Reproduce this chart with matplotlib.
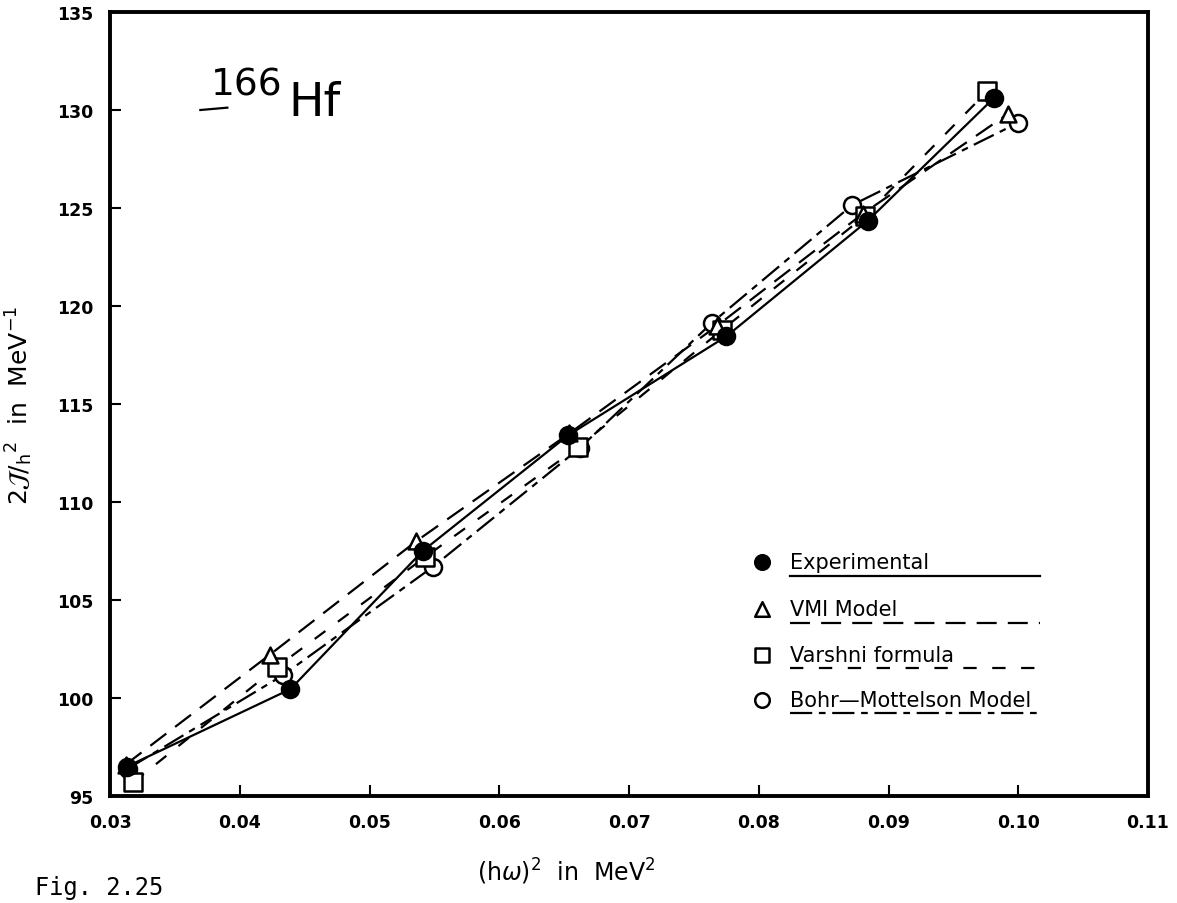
import matplotlib
matplotlib.use('Agg')
import matplotlib.pyplot as plt

# values
exp_x = [0.0313, 0.0439, 0.0541, 0.0653, 0.0775, 0.0884, 0.0981]
exp_y = [96.5, 100.45, 107.5, 113.4, 118.45, 124.35, 130.6]

vmi_x = [0.0312, 0.0423, 0.0536, 0.0654, 0.0768, 0.0880, 0.0992]
vmi_y = [96.6, 102.2, 108.0, 113.5, 119.0, 124.7, 129.8]

var_x = [0.0318, 0.0429, 0.0543, 0.0661, 0.0772, 0.0882, 0.0976]
var_y = [95.7, 101.6, 107.2, 112.8, 118.8, 124.6, 130.95]

bm_x = [0.0314, 0.0433, 0.0549, 0.0662, 0.0764, 0.0872, 0.1000]
bm_y = [96.4, 101.15, 106.7, 112.75, 119.15, 125.15, 129.35]

x_ticks = [0.03, 0.04, 0.05, 0.06, 0.07, 0.08, 0.09, 0.10, 0.11]
x_tick_labels = ['0.03', '0.04', '0.05', '0.06', '0.07', '0.08', '0.09', '0.10', '0.11']
y_ticks = [95, 100, 105, 110, 115, 120, 125, 130, 135]

legend_names = ['Experimental', 'VMI Model', 'Varshni formula', 'Bohr\u2014Mottelson Model']


fig = plt.figure(figsize = (11.77, 9.04), dpi = 100)
ax = fig.add_axes([0.0935, 0.1184, 0.8819, 0.8672])

styles = [
    (exp_x, exp_y, 'o', 'black', '-'),
    (vmi_x, vmi_y, '^', 'white', (0, (9, 5))),
    (var_x, var_y, 's', 'white', (0, (6, 7))),
    (bm_x, bm_y, 'o', 'white', (0, (10, 3, 3, 3))),
]

for xs, ys, marker, face, ls in styles:
    ax.plot(xs, ys, color = 'black', linestyle = ls, linewidth = 1.6, zorder = 2)
for xs, ys, marker, face, ls in styles[::-1]:
    ax.scatter(xs, ys, marker = marker, facecolor = face, edgecolor = 'black',
               s = 150 if marker != '^' else 130, linewidth = 1.8, zorder = 3)

ax.set_xlim(0.03, 0.11)
ax.set_ylim(95, 135)
ax.set_xticks(x_ticks)
ax.set_xticklabels(x_tick_labels)
ax.set_yticks(y_ticks)
ax.tick_params(direction = 'in', length = 8, width = 1.5, pad = 12,
               labelsize = 12.5)
for lab in ax.get_xticklabels() + ax.get_yticklabels():
    lab.set_fontweight('bold')
for spine in ax.spines.values():
    spine.set_linewidth(2.8)

# legend drawn by hand: marker, text, and line sample underneath
leg_y = [0.298, 0.238, 0.180, 0.123]
leg_markers = [('o', 'black'), ('^', 'white'), ('s', 'white'), ('o', 'white')]
for i, name in enumerate(legend_names):
    m, fc = leg_markers[i]
    ax.scatter([0.628], [leg_y[i]], marker = m, facecolor = fc, edgecolor = 'black',
               s = 110, linewidth = 1.8, transform = ax.transAxes, zorder = 4, clip_on = False)
    ax.text(0.655, leg_y[i], name, transform = ax.transAxes, fontsize = 15,
            va = 'center', ha = 'left')
    ax.plot([0.655, 0.896], [leg_y[i] - 0.017] * 2, transform = ax.transAxes,
            color = 'black', linestyle = styles[i][4], linewidth = 1.6)

ax.text(0.097, 0.908, '166', transform = ax.transAxes, fontsize = 27,
        va = 'center', ha = 'left')
ax.text(0.172, 0.884, 'Hf', transform = ax.transAxes, fontsize = 34,
        va = 'center', ha = 'left')
ax.plot([0.087, 0.113], [0.875, 0.878], transform = ax.transAxes, color = 'black', linewidth = 1.6)

ax.set_ylabel(r'$2\mathcal{J}/_{\mathrm{h}}{}^{2}$  in  MeV$^{-1}$', fontsize = 18, labelpad = 16)
fig.text(0.481, 0.035, r'(h$\omega$)$^2$  in  MeV$^2$', fontsize = 17, ha = 'center', va = 'center')
fig.text(0.030, 0.018, 'Fig. 2.25', fontsize = 17, family = 'DejaVu Sans Mono', ha = 'left', va = 'center')

fig.savefig('out.png', dpi = 100)
